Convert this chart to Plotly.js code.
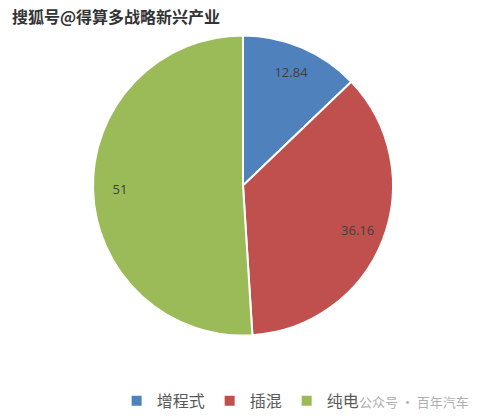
<!DOCTYPE html>
<html>
<head>
<meta charset="utf-8">
<script src="https://cdn.plot.ly/plotly-3.0.1.min.js"></script>
<style>body{margin:0;padding:0;background:#fff}#chart{width:486px;height:420px}</style>
</head>
<body>
<div id="chart"></div>
<script>
const categories = ["增程式", "插混", "纯电"];
const values = [12.84, 36.16, 51];
const colors = ["#4F81BD", "#C0504D", "#9BBB59"];

const pieDomain = {x: [93/486, 393/486], y: [1 - 336/420, 1 - 35/420]};

const pie = {
  type: "pie",
  labels: categories,
  values: values,
  sort: false,
  direction: "clockwise",
  rotation: 0,
  marker: {colors: colors, line: {color: "#ffffff", width: 2}},
  textinfo: "none",
  domain: pieDomain,
  hoverinfo: "none"
};

// transparent ring carrying the data labels, placed near the rim like the original
const labelRing = {
  type: "pie",
  labels: categories,
  values: values,
  sort: false,
  direction: "clockwise",
  rotation: 0,
  hole: 0.64,
  showlegend: false,
  marker: {colors: ["rgba(0,0,0,0)", "rgba(0,0,0,0)", "rgba(0,0,0,0)"], line: {width: 0}},
  texttemplate: "%{value}",
  textposition: "inside",
  insidetextorientation: "horizontal",
  textfont: {family: "Open Sans, Noto Sans CJK SC", size: 13, color: "#404040"},
  domain: pieDomain,
  hoverinfo: "none"
};

const layout = {
  width: 486, height: 420,
  margin: {l: 0, r: 0, t: 0, b: 0},
  paper_bgcolor: "#ffffff",
  showlegend: true,
  legend: {
    orientation: "h", x: 0.24, xanchor: "left", y: 0.005, yanchor: "bottom",
    font: {family: "Noto Sans CJK SC", size: 16, color: "#595959"},
    itemwidth: 30
  },
  annotations: [
    {text: "<b>搜狐号@得算多战略新兴产业</b>", xref: "paper", yref: "paper", x: 0.02, y: 1 - 16/420,
     xanchor: "left", yanchor: "middle", showarrow: false,
     font: {family: "Noto Sans CJK SC", size: 16, color: "#333333"}},
    {text: "公众号 · 百年汽车", xref: "paper", yref: "paper", x: 0.97, y: 1 - 401/420,
     xanchor: "right", yanchor: "middle", showarrow: false,
     font: {family: "Noto Sans CJK SC", size: 13, color: "#b0b0b0"}}
  ]
};

Plotly.newPlot("chart", [pie, labelRing], layout, {displayModeBar: false, staticPlot: true});
</script>
</body>
</html>
